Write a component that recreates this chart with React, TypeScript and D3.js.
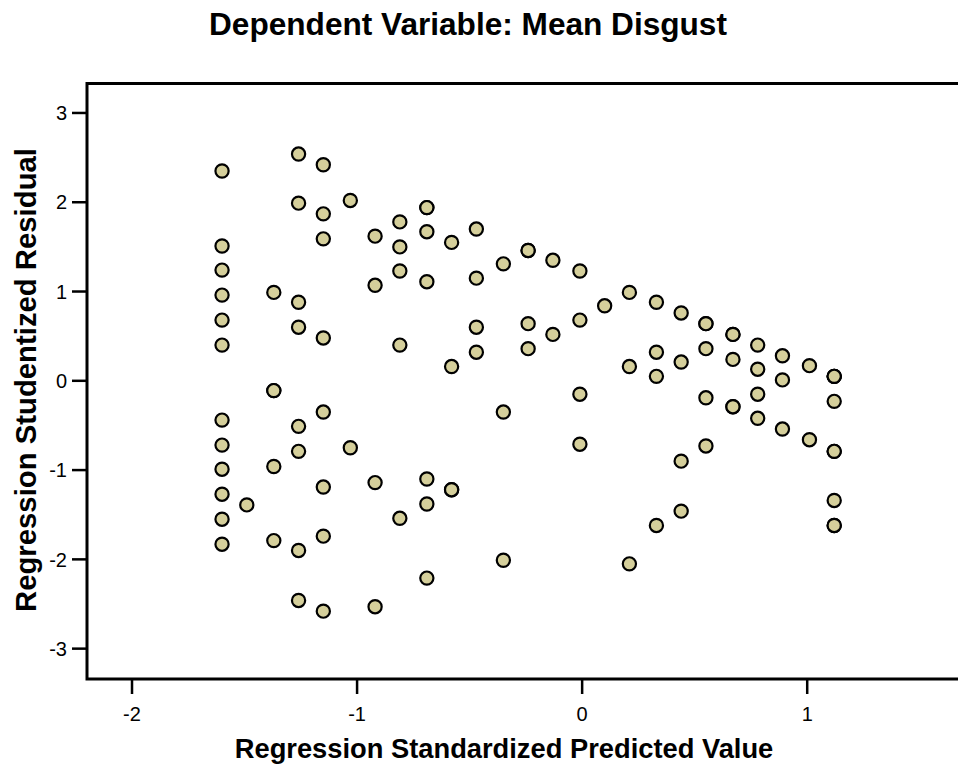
import React from "react";
import * as d3 from "d3";

const title = "Dependent Variable: Mean Disgust";
const xAxisTitle = "Regression Standardized Predicted Value";
const yAxisTitle = "Regression Studentized Residual";

const xTicks = [-2, -1, 0, 1];
const yTicks = [-3, -2, -1, 0, 1, 2, 3];

// Regression standardized predicted values (x) and studentized residuals (y)
const predicted = [
  -1.6, -1.6, -1.6, -1.6, -1.6, -1.6, -1.6, -1.6, -1.6, -1.6, -1.6, -1.6,
  -1.49,
  -1.37, -1.37, -1.37, -1.37, -1.37,
  -1.26, -1.26, -1.26, -1.26, -1.26, -1.26, -1.26, -1.26,
  -1.15, -1.15, -1.15, -1.15, -1.15, -1.15, -1.15, -1.15,
  -1.03, -1.03,
  -0.92, -0.92, -0.92, -0.92,
  -0.81, -0.81, -0.81, -0.81, -0.81,
  -0.69, -0.69, -0.69, -0.69, -0.69, -0.69, -0.69,
  -0.58, -0.58, -0.58, -0.58,
  -0.47, -0.47, -0.47, -0.47,
  -0.35, -0.35, -0.35,
  -0.24, -0.24, -0.24, -0.24,
  -0.13, -0.13,
  -0.01, -0.01, -0.01, -0.01,
  0.1,
  0.21, 0.21, 0.21,
  0.33, 0.33, 0.33, 0.33,
  0.44, 0.44, 0.44, 0.44,
  0.55, 0.55, 0.55, 0.55, 0.55,
  0.67, 0.67, 0.67, 0.67, 0.67,
  0.78, 0.78, 0.78, 0.78,
  0.89, 0.89, 0.89,
  1.01, 1.01,
  1.12, 1.12, 1.12, 1.12, 1.12, 1.12, 1.12, 1.12, 1.12,
];

const residual = [
  2.35, 1.51, 1.24, 0.96, 0.68, 0.4, -0.44, -0.72, -0.99, -1.27, -1.55, -1.83,
  -1.39,
  0.99, -0.11, -0.11, -0.96, -1.79,
  2.54, 1.99, 0.88, 0.6, -0.51, -0.79, -1.9, -2.46,
  2.42, 1.87, 1.59, 0.48, -0.35, -1.19, -1.74, -2.58,
  2.02, -0.75,
  1.62, 1.07, -1.14, -2.53,
  1.78, 1.5, 1.23, 0.4, -1.54,
  1.94, 1.94, 1.67, 1.11, -1.1, -1.38, -2.21,
  1.55, 0.16, -1.22, -1.22,
  1.7, 1.15, 0.6, 0.32,
  1.31, -0.35, -2.01,
  1.46, 1.46, 0.64, 0.36,
  1.35, 0.52,
  1.23, 0.68, -0.15, -0.71,
  0.84,
  0.99, 0.16, -2.05,
  0.88, 0.32, 0.05, -1.62,
  0.76, 0.21, -0.9, -1.46,
  0.64, 0.64, 0.36, -0.19, -0.73,
  0.52, 0.52, 0.24, -0.29, -0.29,
  0.4, 0.13, -0.15, -0.42,
  0.28, 0.01, -0.54,
  0.17, -0.66,
  0.05, 0.05, 0.05, -0.23, -0.79, -0.79, -1.34, -1.62, -1.62,
];

const W = 958;
const H = 767;
const left = 87;
const top = 83.5;
const bottom = 679;
const right = 958;

const FONT = "'Liberation Sans', Arial, Helvetica, sans-serif";

export default function App() {
  const x = d3.scaleLinear().domain([-2.2, 1.67]).range([left, right]);
  const y = d3.scaleLinear().domain([-3.34, 3.33]).range([bottom, top]);

  const points = predicted.map((p, i) => ({ x: p, y: residual[i] }));

  return (
    <svg
      width={W}
      height={H}
      style={{ position: "absolute", left: 0, top: 0, background: "#fff" }}
    >
      <rect x={0} y={0} width={W} height={H} fill="#fff" />
      <text
        x={468}
        y={35}
        textAnchor="middle"
        fontFamily={FONT}
        fontWeight="bold"
        fontSize={31.6}
        fill="#000"
      >
        {title}
      </text>

      {/* frame (open on the right, cut by image edge) */}
      <path
        d={`M${right + 5},${top} H${left} V${bottom} H${right + 5}`}
        fill="none"
        stroke="#000"
        strokeWidth={3}
      />

      {/* y ticks */}
      {yTicks.map((t) => (
        <g key={"y" + t}>
          <line x1={left - 15} x2={left} y1={y(t)} y2={y(t)} stroke="#000" strokeWidth={2.5} />
          <text
            x={67}
            y={y(t)}
            dy="0.36em"
            textAnchor="end"
            fontFamily={FONT}
            fontSize={20}
            fill="#000"
          >
            {t}
          </text>
        </g>
      ))}

      {/* x ticks */}
      {xTicks.map((t) => (
        <g key={"x" + t}>
          <line x1={x(t)} x2={x(t)} y1={bottom} y2={bottom + 15} stroke="#000" strokeWidth={2.5} />
          <text
            x={x(t)}
            y={721}
            textAnchor="middle"
            fontFamily={FONT}
            fontSize={20}
            fill="#000"
          >
            {t}
          </text>
        </g>
      ))}

      {/* points */}
      {points.map((d, i) => (
        <circle
          key={i}
          cx={x(d.x)}
          cy={y(d.y)}
          r={6.6}
          fill="#d5cf9b"
          stroke="#000"
          strokeWidth={2.2}
        />
      ))}

      <text
        x={504}
        y={758}
        textAnchor="middle"
        fontFamily={FONT}
        fontWeight="bold"
        fontSize={27.3}
        fill="#000"
      >
        {xAxisTitle}
      </text>

      <text
        transform={`translate(36,${380}) rotate(-90)`}
        textAnchor="middle"
        fontFamily={FONT}
        fontWeight="bold"
        fontSize={29.3}
        fill="#000"
      >
        {yAxisTitle}
      </text>
    </svg>
  );
}
